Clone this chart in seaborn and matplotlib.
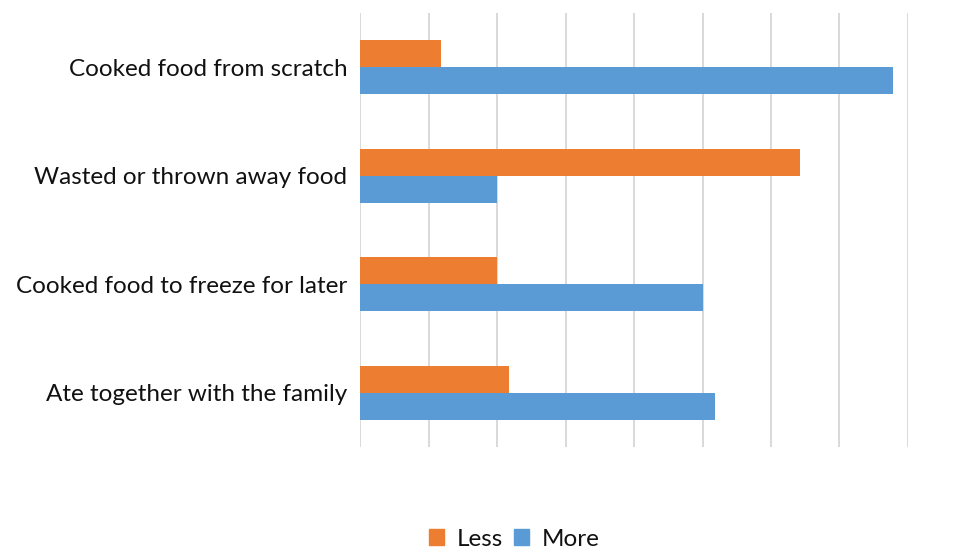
import matplotlib
matplotlib.use("Agg")
import matplotlib.pyplot as plt
import seaborn as sns
import pandas as pd

categories = [
    "Cooked food from scratch",
    "Wasted or thrown away food",
    "Cooked food to freeze for later",
    "Ate together with the family",
]
less_values = [5.9, 32.1, 10.0, 10.9]
more_values = [38.9, 10.0, 25.0, 25.9]
series = ["Less", "More"]
colors = {"Less": "#ED7D31", "More": "#5B9BD5"}

df = pd.DataFrame({
    "category": categories * 2,
    "value": less_values + more_values,
    "series": ["Less"] * len(categories) + ["More"] * len(categories),
})

sns.set_theme(style="white")
plt.rcParams["font.family"] = ["Lato", "DejaVu Sans"]

fig = plt.figure(figsize=(9.74, 5.49), dpi=100)
ax = fig.add_axes([360 / 974, 1 - 447 / 549, (908 - 360) / 974, (447 - 13) / 549])

sns.barplot(
    data=df, y="category", x="value", hue="series", hue_order=series,
    order=categories, orient="h", palette=colors, width=0.5, gap=0,
    saturation=1, ax=ax, legend=False, linewidth=0,
)

ax.set_xlim(0, 40)
ax.set_xticks(range(0, 41, 5))
ax.set_xticklabels([])
ax.grid(axis="x", color="#D9D9D9", linewidth=1.4)
ax.set_axisbelow(True)
ax.tick_params(axis="both", length=0)
ax.tick_params(axis="y", labelsize=17.5, colors="#111111", pad=9)
ax.set_xlabel("")
ax.set_ylabel("")
for s in ax.spines.values():
    s.set_visible(False)

handles = [plt.Rectangle((0, 0), 1, 1, color=colors[s]) for s in series]
fig.legend(handles, series, loc="center", bbox_to_anchor=(514 / 974, 1 - 539 / 549),
           ncol=2, frameon=False, fontsize=17.5, handlelength=0.65, handleheight=0.65,
           handletextpad=0.5, columnspacing=0.45, labelcolor="#111111")

fig.savefig("out.png", dpi=100)
